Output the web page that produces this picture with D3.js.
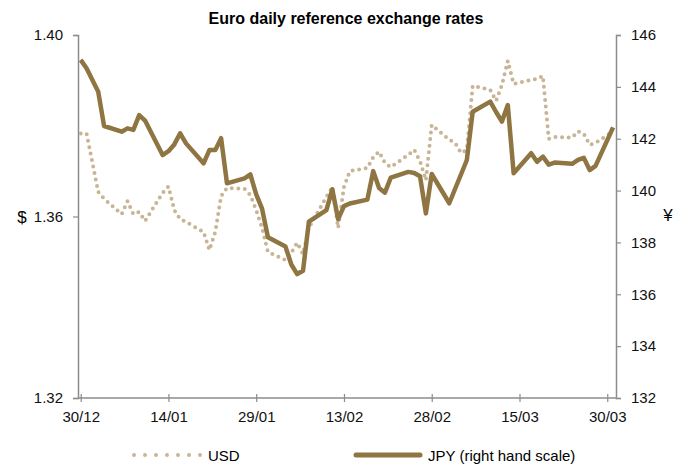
<!DOCTYPE html>
<html>
<head>
<meta charset="utf-8">
<script src="https://cdn.jsdelivr.net/npm/d3@7"></script>
<style>
    body { margin: 0; background: #fff; }
    text { font-family: "Liberation Sans Narrow", "Arial Narrow", "Liberation Sans", sans-serif; }
</style>
</head>
<body>
<svg id="chart" width="685" height="464"></svg>
<script>
const dates = ['30/12/2013', '31/12/2013', '02/01/2014', '03/01/2014', '06/01/2014', '07/01/2014', '08/01/2014', '09/01/2014', '10/01/2014',
    '13/01/2014', '14/01/2014', '15/01/2014', '16/01/2014', '17/01/2014', '20/01/2014', '21/01/2014', '22/01/2014', '23/01/2014', '24/01/2014',
    '27/01/2014', '28/01/2014', '29/01/2014', '30/01/2014', '31/01/2014', '03/02/2014', '04/02/2014', '05/02/2014', '06/02/2014', '07/02/2014',
    '10/02/2014', '11/02/2014', '12/02/2014', '13/02/2014', '14/02/2014', '17/02/2014', '18/02/2014', '19/02/2014', '20/02/2014', '21/02/2014',
    '24/02/2014', '25/02/2014', '26/02/2014', '27/02/2014', '28/02/2014', '03/03/2014', '04/03/2014', '05/03/2014', '06/03/2014', '07/03/2014',
    '10/03/2014', '11/03/2014', '12/03/2014', '13/03/2014', '14/03/2014', '17/03/2014', '18/03/2014', '19/03/2014', '20/03/2014', '21/03/2014',
    '24/03/2014', '25/03/2014', '26/03/2014', '27/03/2014', '28/03/2014', '31/03/2014']

const usd = [1.3783, 1.3783, 1.3654, 1.3639, 1.3605, 1.3634, 1.3605, 1.3610, 1.3590,
    1.3652, 1.3666, 1.3614, 1.3594, 1.3588, 1.3566, 1.3526, 1.3566, 1.3645, 1.3663,
    1.3661, 1.3647, 1.3614, 1.3575, 1.3522, 1.3504, 1.3520, 1.3542, 1.3517, 1.3575,
    1.3643, 1.3665, 1.3575, 1.3665, 1.3700, 1.3707, 1.3731, 1.3743, 1.3718, 1.3709,
    1.3736, 1.3747, 1.3722, 1.3680, 1.3802, 1.3769, 1.3762, 1.3740, 1.3747, 1.3888,
    1.3879, 1.3855, 1.3890, 1.3943, 1.3892, 1.3901, 1.3903, 1.3910, 1.3771, 1.3775,
    1.3774, 1.3788, 1.3782, 1.3758, 1.3762, 1.3788]

const jpy = [145.04, 144.72, 143.81, 142.49, 142.27, 142.40, 142.34, 142.91, 142.70,
    141.37, 141.52, 141.78, 142.21, 141.82, 141.05, 141.56, 141.56, 142.02, 140.28,
    140.47, 140.62, 139.85, 139.30, 138.20, 137.84, 137.15, 136.78, 136.91, 138.80,
    139.25, 140.05, 138.90, 139.40, 139.50, 139.65, 140.75, 140.10, 139.92, 140.50,
    140.72, 140.68, 140.55, 139.12, 140.64, 139.51, 140.07, 140.62, 141.18, 143.04,
    143.43, 143.03, 142.66, 143.30, 140.67, 141.44, 141.11, 141.31, 141.00, 141.08,
    141.03, 141.18, 141.26, 140.79, 140.95, 142.44]

const xTicks = ['30/12/2013', '14/01/2014', '29/01/2014', '13/02/2014', '28/02/2014', '15/03/2014', '30/03/2014']
const usdTicks = [1.32, 1.36, 1.40]
const jpyTicks = [132, 134, 136, 138, 140, 142, 144, 146]

const parse = d3.timeParse('%d/%m/%Y')
const fmt = d3.timeFormat('%d/%m')

const usdColor = '#c7b596'
const jpyColor = '#8e7542'
const axisColor = '#8c8c8c'

const svg = d3.select('#chart')

// plot area
const plotLeft = 78, plotRight = 616, plotTop = 35, plotBottom = 398

const x = d3.scaleTime()
    .domain([parse(dates[0]), parse(dates[dates.length - 1])])
    .range([80.7, 613.1])
const yUsd = d3.scaleLinear().domain([1.32, 1.40]).range([plotBottom, plotTop])
const yJpy = d3.scaleLinear().domain([132, 146]).range([plotBottom, plotTop])

const rows = dates.map((d, i) => ({ date: parse(d), usd: usd[i], jpy: jpy[i] }))

// title
svg.append('text')
    .attr('x', 346)
    .attr('y', 24)
    .attr('text-anchor', 'middle')
    .attr('font-size', 16)
    .attr('font-weight', 'bold')
    .text('Euro daily reference exchange rates')

const styleAxis = (g) => {
    g.select('.domain').attr('stroke', axisColor).attr('stroke-width', 1.5)
    g.selectAll('.tick line').attr('stroke', axisColor).attr('stroke-width', 1.2)
    g.selectAll('.tick text').attr('font-size', 15).attr('fill', '#111')
        .style('font-family', '"Liberation Sans Narrow", "Arial Narrow", "Liberation Sans", sans-serif')
}

// left axis ($)
svg.append('g')
    .attr('transform', `translate(${plotLeft},0)`)
    .call(d3.axisLeft(yUsd).tickValues(usdTicks).tickFormat(d3.format('.2f')).tickSizeOuter(0).tickSize(5).tickPadding(10))
    .call(styleAxis)

// right axis (yen)
svg.append('g')
    .attr('transform', `translate(${plotRight},0)`)
    .call(d3.axisRight(yJpy).tickValues(jpyTicks).tickSizeOuter(0).tickSize(5).tickPadding(10))
    .call(styleAxis)

// bottom axis, tick marks cross the line
const xAxis = svg.append('g')
    .attr('transform', `translate(0,${plotBottom})`)
    .call(d3.axisBottom(x).tickValues(xTicks.map(parse)).tickFormat(fmt).tickSizeOuter(0).tickSize(5).tickPadding(8))
    .call(styleAxis)
xAxis.select('.domain').attr('d', `M${plotLeft},0H${plotRight}`)
xAxis.selectAll('.tick line').attr('y1', -4).attr('y2', 4)

svg.append('text')
    .attr('x', 22).attr('y', 223)
    .attr('text-anchor', 'middle')
    .attr('font-size', 17)
    .text('$')

svg.append('text')
    .attr('x', 668).attr('y', 221)
    .attr('text-anchor', 'middle')
    .attr('font-size', 17)
    .text('¥')

// series
const usdLine = d3.line().x((d) => x(d.date)).y((d) => yUsd(d.usd))
const jpyLine = d3.line().x((d) => x(d.date)).y((d) => yJpy(d.jpy))

svg.append('path')
    .datum(rows)
    .attr('d', usdLine)
    .attr('fill', 'none')
    .attr('stroke', usdColor)
    .attr('stroke-width', 4)
    .attr('stroke-linecap', 'round')
    .attr('stroke-dasharray', '0 6.6')

svg.append('path')
    .datum(rows)
    .attr('d', jpyLine)
    .attr('fill', 'none')
    .attr('stroke', jpyColor)
    .attr('stroke-width', 4.5)
    .attr('stroke-linejoin', 'round')

// legend
const legend = svg.append('g').attr('transform', 'translate(0,455)')

legend.append('line')
    .attr('x1', 134).attr('x2', 201)
    .attr('stroke', usdColor)
    .attr('stroke-width', 4)
    .attr('stroke-linecap', 'round')
    .attr('stroke-dasharray', '0 11')

legend.append('text')
    .attr('x', 208).attr('y', 6)
    .attr('font-size', 15)
    .text('USD')

legend.append('line')
    .attr('x1', 356).attr('x2', 420)
    .attr('stroke', jpyColor)
    .attr('stroke-width', 5)
    .attr('stroke-linecap', 'round')

legend.append('text')
    .attr('x', 428).attr('y', 6)
    .attr('font-size', 15)
    .text('JPY (right hand scale)')
</script>
</body>
</html>
